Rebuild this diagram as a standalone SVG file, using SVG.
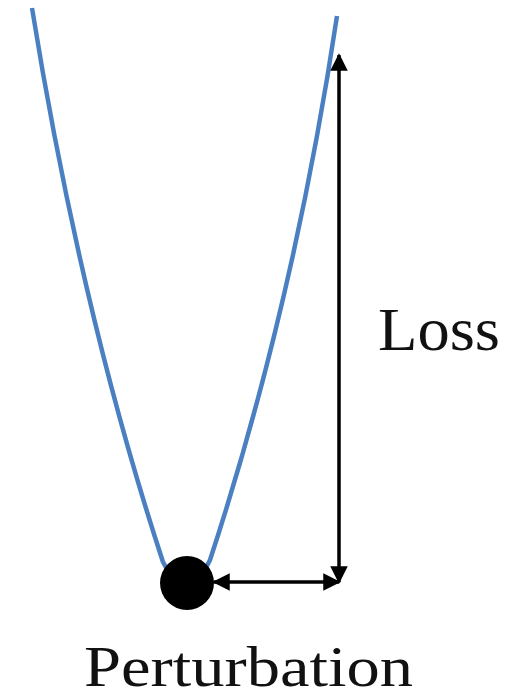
<svg xmlns="http://www.w3.org/2000/svg" width="510" height="700" viewBox="0 0 510 700">
  <defs>
    <style>
      .curve { fill: none; stroke: #4a7fc1; stroke-width: 4.5; stroke-linecap: butt; }
      .arrow { fill: none; stroke: #000; stroke-width: 3.5; }
      .label { font-family: "Liberation Serif", "Times New Roman", serif; fill: #111; }
    </style>
    <marker id="head" viewBox="0 0 10 10" refX="9" refY="5" markerWidth="5" markerHeight="5" orient="auto-start-reverse" markerUnits="strokeWidth">
      <path d="M0,0 L10,5 L0,10 Z" fill="#000"/>
    </marker>
  </defs>
  <rect width="510" height="700" fill="#fff"/>
  <g id="curve">
    <path class="curve" d="M32,8 C61,188 104,382 163,562 Q187,608 210,560 C269,380 310,196 337,16"/>
  </g>
  <g id="ball">
    <circle cx="187" cy="583" r="27" fill="#000"/>
  </g>
  <g id="connectors">
    <line class="arrow" x1="339" y1="582" x2="339" y2="55" marker-start="url(#head)" marker-end="url(#head)"/>
    <line class="arrow" x1="214" y1="582" x2="339" y2="582" marker-start="url(#head)" marker-end="url(#head)"/>
  </g>
  <g id="loss-label">
    <text class="label" x="378" y="350" font-size="62" textLength="122" lengthAdjust="spacingAndGlyphs">Loss</text>
  </g>
  <g id="perturbation-label">
    <text class="label" x="84" y="686" font-size="58" textLength="329" lengthAdjust="spacingAndGlyphs">Perturbation</text>
  </g>
</svg>
